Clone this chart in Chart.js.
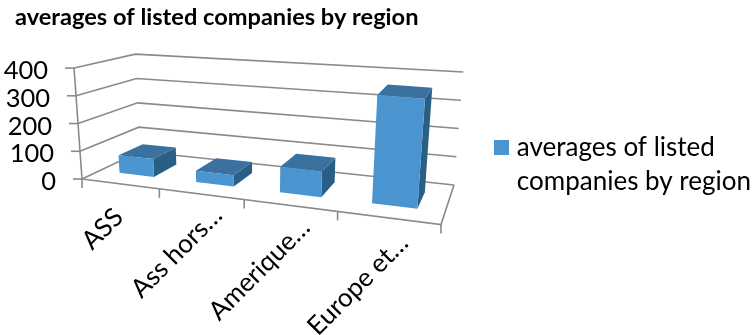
<!DOCTYPE html>
<html>
<head>
<meta charset="utf-8">
<script src="https://cdn.jsdelivr.net/npm/chart.js@4"></script>
<style>
  html, body { margin: 0; padding: 0; background: #fff; }
  #wrap { width: 753px; height: 335px; }
</style>
</head>
<body>
<div id="wrap"><canvas id="c" width="753" height="335"></canvas></div>
<script>
const categories = ['ASS', 'Ass hors…', 'Amerique…', 'Europe et…'];
const seriesName = 'averages of listed companies by region';
const legendLines = ['averages of listed', 'companies by region'];
const averages = [65, 40, 87, 360];
const valueTicks = [0, 100, 200, 300, 400];

const FONT = 'Lato, "Open Sans", sans-serif';
const INK = '#000000';
const AXIS = '#8a8a8a';
const FRONT = '#4a94d0';
const TOP = '#3b719f';
const SIDE = '#2a5f85';

// Floor corners on screen, ordered front-left, front-right, back-right, back-left.
const floorQuad = [[82, 179], [441, 224.5], [454, 185], [140, 151.5]];
// Point that all upright edges converge to, and how far the top of the axis sits from the floor there.
const VERTICAL_VANISH = [255, 2585];
const wallRise = { frontLeft: 0.0461, frontRight: 0.0538, backRight: 0.0471, backLeft: 0.04 };
const DEPTH_FRONT = 0.28;
const DEPTH_BACK = 0.71;
const LABEL_SHIFT = [[-1, 29], [17, 17], [16, 18], [16, 21]];

// Projective map of the unit square onto a quad.
function quadMap(q) {
  const [[x0, y0], [x1, y1], [x2, y2], [x3, y3]] = q;
  const dx1 = x1 - x2, dx2 = x3 - x2, sx = x0 - x1 + x2 - x3;
  const dy1 = y1 - y2, dy2 = y3 - y2, sy = y0 - y1 + y2 - y3;
  const det = dx1 * dy2 - dx2 * dy1;
  const g = (sx * dy2 - dx2 * sy) / det;
  const h = (dx1 * sy - sx * dy1) / det;
  const a = x1 - x0 + g * x1, b = x3 - x0 + h * x3;
  const d = y1 - y0 + g * y1, e = y3 - y0 + h * y3;
  return (u, w) => {
    const k = g * u + h * w + 1;
    return [(a * u + b * w + x0) / k, (d * u + e * w + y0) / k];
  };
}
const floorAt = quadMap(floorQuad);

// u: across the categories, w: depth, t: fraction of the value axis.
function project(u, w, t) {
  const a = floorAt(u, w);
  const front = wallRise.frontLeft + (wallRise.frontRight - wallRise.frontLeft) * u;
  const back = wallRise.backLeft + (wallRise.backRight - wallRise.backLeft) * u;
  const r = (front + (back - front) * w) * t;
  return [a[0] + (a[0] - VERTICAL_VANISH[0]) * r, a[1] + (a[1] - VERTICAL_VANISH[1]) * r];
}

function path(ctx, pts, fill) {
  ctx.beginPath();
  pts.forEach((p, i) => i ? ctx.lineTo(p[0], p[1]) : ctx.moveTo(p[0], p[1]));
  if (fill) { ctx.closePath(); ctx.fillStyle = fill; ctx.fill(); }
  else ctx.stroke();
}

// Legend swatch, drawn at its natural size so the label can sit close to it.
const swatch = document.createElement('canvas');
swatch.width = 15;
swatch.height = 15;
const swatchCtx = swatch.getContext('2d');
swatchCtx.fillStyle = FRONT;
swatchCtx.fillRect(0, 0, 15, 15);

const boxPlugin = {
  id: 'box3d',
  beforeDatasetsDraw(chart) {
    const { ctx, chartArea: area, scales: { x, y } } = chart;
    const toU = px => (px - area.left) / (area.right - area.left);
    const toT = px => (area.bottom - px) / (area.bottom - area.top);
    ctx.save();
    ctx.lineWidth = 1.6;
    ctx.strokeStyle = AXIS;

    // Walls: one line per value tick, running along the left and back sides.
    y.ticks.forEach(tick => {
      const t = toT(y.getPixelForValue(tick.value));
      path(ctx, [project(0, 0, t), project(0, 1, t), project(1, 1, t)]);
    });
    path(ctx, [project(0, 0, 0), project(1, 0, 0), project(1, 1, 0)]);
    path(ctx, [project(0, 0, 0), project(0, 0, 1)]);

    // Value axis tick marks and labels.
    ctx.fillStyle = INK;
    ctx.font = '25.5px ' + FONT;
    ctx.textAlign = 'right';
    ctx.textBaseline = 'middle';
    y.ticks.forEach(tick => {
      const p = project(0, 0, toT(y.getPixelForValue(tick.value)));
      path(ctx, [p, [p[0] - 9, p[1]]]);
      ctx.fillStyle = INK;
      ctx.fillText(tick.label, p[0] - 26, p[1] + 3);
    });

    // Category tick marks on the front edge.
    const meta = chart.getDatasetMeta(0);
    for (let i = 0; i <= categories.length; i++) {
      const p = project(i / categories.length, 0, 0);
      path(ctx, [p, [p[0], p[1] + 9]]);
    }

    // Bars: side, top, then front face.
    meta.data.forEach(bar => {
      const u0 = toU(bar.x - bar.width / 2), u1 = toU(bar.x + bar.width / 2);
      const t = toT(bar.y), w0 = DEPTH_FRONT, w1 = DEPTH_BACK;
      path(ctx, [project(u1, w0, 0), project(u1, w1, 0), project(u1, w1, t), project(u1, w0, t)], SIDE);
      path(ctx, [project(u0, w0, t), project(u1, w0, t), project(u1, w1, t), project(u0, w1, t)], TOP);
      path(ctx, [project(u0, w0, 0), project(u1, w0, 0), project(u1, w0, t), project(u0, w0, t)], FRONT);
    });

    // Category labels, slanted up to the right and ending just under the axis.
    ctx.fillStyle = INK;
    ctx.textAlign = 'right';
    ctx.font = '26px ' + FONT;
    meta.data.forEach((bar, i) => {
      const p = project(toU(bar.x), 0, 0);
      ctx.save();
      ctx.translate(p[0] + LABEL_SHIFT[i][0], p[1] + LABEL_SHIFT[i][1]);
      ctx.rotate(-Math.PI / 4);
      ctx.fillText(x.getLabelForValue(i), 0, 0);
      ctx.restore();
    });
    ctx.restore();
    return false;
  }
};

new Chart(document.getElementById('c'), {
  type: 'bar',
  data: {
    labels: categories,
    datasets: [{
      label: seriesName,
      data: averages,
      backgroundColor: FRONT,
      barPercentage: 0.46,
      categoryPercentage: 1
    }]
  },
  options: {
    responsive: false,
    animation: false,
    layout: { padding: { left: 15, right: -8, top: 2, bottom: 0 } },
    scales: {
      x: { display: false },
      y: { display: false, min: valueTicks[0], max: valueTicks[valueTicks.length - 1],
           ticks: { stepSize: valueTicks[1] - valueTicks[0] } }
    },
    plugins: {
      tooltip: { enabled: false },
      title: {
        display: true, text: seriesName, align: 'start', color: INK,
        font: { family: FONT, size: 23.6, weight: 'bold' },
        padding: { top: 1, bottom: 6 }
      },
      legend: {
        position: 'right',
        labels: {
          color: INK,
          usePointStyle: true,
          boxWidth: 5, boxHeight: 15, padding: 6,
          font: { family: FONT, size: 26, lineHeight: 1.31 },
          generateLabels: () => [{ text: legendLines, fillStyle: FRONT, strokeStyle: FRONT, lineWidth: 0, pointStyle: swatch, datasetIndex: 0 }]
        }
      }
    }
  },
  plugins: [boxPlugin]
});
</script>
</body>
</html>
